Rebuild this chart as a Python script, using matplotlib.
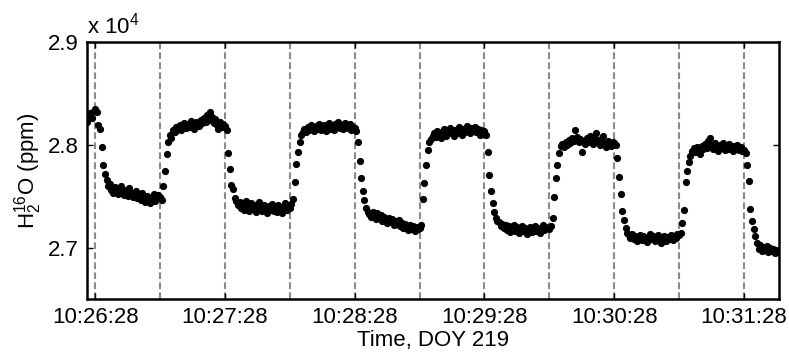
import numpy as np
import matplotlib.pyplot as plt

plt.rcParams['font.family'] = ['Liberation Sans', 'DejaVu Sans']
plt.rcParams['mathtext.fontset'] = 'custom'
plt.rcParams['mathtext.rm'] = 'Liberation Sans'
plt.rcParams['mathtext.it'] = 'Liberation Sans:italic'

# sampling: seconds after 10:26:28, one reading every 0.75 s
dt = 0.75
t_first = -3.75

# H2(16)O readings in units of 1e4 ppm, one list per 30 s valve period
pre = [2.822, 2.829, 2.831, 2.826, 2.833]
seg0 = [2.835, 2.832, 2.819, 2.815, 2.798, 2.780, 2.772, 2.766, 2.760,
        2.762, 2.756, 2.753, 2.759, 2.757, 2.752, 2.755, 2.760, 2.754, 2.751,
        2.756, 2.750, 2.758, 2.753, 2.749, 2.752, 2.755, 2.748, 2.751, 2.746,
        2.753, 2.749, 2.744, 2.750, 2.747, 2.743, 2.749, 2.752, 2.745, 2.748, 2.751]
seg1 = [2.749, 2.746, 2.760, 2.775, 2.791, 2.803, 2.810, 2.807, 2.814,
        2.812, 2.817, 2.815, 2.819, 2.814, 2.818, 2.821, 2.816, 2.820, 2.817,
        2.823, 2.819, 2.815, 2.822, 2.820, 2.818, 2.824, 2.821, 2.826, 2.822,
        2.829, 2.824, 2.832, 2.827, 2.821, 2.825, 2.819, 2.815, 2.822, 2.817, 2.820]
seg2 = [2.818, 2.814, 2.792, 2.776, 2.761, 2.757, 2.748, 2.745, 2.741,
        2.744, 2.739, 2.742, 2.737, 2.745, 2.740, 2.736, 2.743, 2.739, 2.741,
        2.735, 2.740, 2.744, 2.738, 2.736, 2.741, 2.739, 2.734, 2.740, 2.737,
        2.742, 2.736, 2.739, 2.735, 2.741, 2.738, 2.734, 2.739, 2.743, 2.737, 2.740]
seg3 = [2.739, 2.742, 2.747, 2.764, 2.781, 2.793, 2.803, 2.810, 2.812,
        2.815, 2.812, 2.817, 2.814, 2.819, 2.816, 2.813, 2.818, 2.815, 2.820,
        2.814, 2.817, 2.819, 2.813, 2.816, 2.821, 2.815, 2.818, 2.814, 2.820,
        2.817, 2.822, 2.816, 2.819, 2.815, 2.821, 2.818, 2.816, 2.820, 2.814, 2.817]
seg4 = [2.816, 2.813, 2.803, 2.784, 2.768, 2.755, 2.746, 2.739, 2.735,
        2.733, 2.730, 2.735, 2.731, 2.728, 2.734, 2.729, 2.732, 2.726, 2.730,
        2.727, 2.724, 2.729, 2.725, 2.728, 2.722, 2.726, 2.723, 2.727, 2.721,
        2.724, 2.719, 2.723, 2.720, 2.717, 2.722, 2.718, 2.721, 2.716, 2.720, 2.718]
seg5 = [2.719, 2.722, 2.747, 2.763, 2.780, 2.795, 2.803, 2.806, 2.809,
        2.811, 2.808, 2.813, 2.810, 2.807, 2.812, 2.815, 2.809, 2.813, 2.811,
        2.816, 2.812, 2.809, 2.814, 2.811, 2.817, 2.813, 2.810, 2.815, 2.812,
        2.818, 2.814, 2.811, 2.816, 2.813, 2.817, 2.812, 2.815, 2.810, 2.814, 2.812]
seg6 = [2.813, 2.810, 2.793, 2.771, 2.755, 2.743, 2.735, 2.729, 2.726,
        2.725, 2.721, 2.723, 2.719, 2.722, 2.717, 2.721, 2.715, 2.719, 2.722,
        2.716, 2.720, 2.714, 2.718, 2.721, 2.716, 2.719, 2.713, 2.717, 2.720,
        2.715, 2.718, 2.721, 2.716, 2.719, 2.714, 2.718, 2.722, 2.717, 2.720, 2.719]
seg7 = [2.718, 2.721, 2.729, 2.749, 2.768, 2.780, 2.792, 2.799, 2.801,
        2.798, 2.803, 2.800, 2.805, 2.802, 2.807, 2.804, 2.814, 2.808, 2.803,
        2.806, 2.793, 2.804, 2.801, 2.807, 2.803, 2.809, 2.805, 2.801, 2.806,
        2.811, 2.804, 2.800, 2.806, 2.809, 2.802, 2.798, 2.804, 2.801, 2.799, 2.803]
seg8 = [2.802, 2.800, 2.787, 2.769, 2.752, 2.736, 2.727, 2.719, 2.714,
        2.712, 2.709, 2.713, 2.708, 2.711, 2.706, 2.710, 2.712, 2.707, 2.711,
        2.709, 2.705, 2.710, 2.713, 2.708, 2.711, 2.706, 2.709, 2.712, 2.707,
        2.704, 2.709, 2.711, 2.706, 2.710, 2.708, 2.712, 2.707, 2.711, 2.709, 2.713]
seg9 = [2.712, 2.714, 2.724, 2.737, 2.764, 2.775, 2.783, 2.789, 2.794,
        2.797, 2.793, 2.798, 2.795, 2.791, 2.799, 2.796, 2.801, 2.797, 2.804,
        2.807, 2.800, 2.796, 2.802, 2.798, 2.794, 2.800, 2.797, 2.802, 2.795,
        2.799, 2.796, 2.801, 2.797, 2.794, 2.799, 2.796, 2.800, 2.795, 2.798, 2.794]
seg10 = [2.795, 2.792, 2.780, 2.765, 2.738, 2.726, 2.718, 2.711, 2.704,
         2.699, 2.703, 2.697, 2.701, 2.698, 2.702, 2.696, 2.700, 2.697, 2.699,
         2.695, 2.698, 2.696]

# valve switching times (s after 10:26:28)
switch_times = [0, 30, 60, 90, 120, 150, 180, 210, 240, 270, 300]

tick_pos = [0, 60, 120, 180, 240, 300]
tick_labels = ['10:26:28', '10:27:28', '10:28:28', '10:29:28', '10:30:28', '10:31:28']

h2o = np.concatenate([pre, seg0, seg1, seg2, seg3, seg4, seg5,
                      seg6, seg7, seg8, seg9, seg10]) * 1e4
t = t_first + dt * np.arange(len(h2o))

fig = plt.figure(figsize=(7.89, 3.54), dpi=100)
ax = fig.add_axes([87 / 789, 55 / 354, 692 / 789, 257 / 354])

for ts in switch_times:
    ax.axvline(ts, color='#8a8a8a', lw=1.5, linestyle=(0, (3.2, 1.6)), zorder=1)

ax.plot(t, h2o, 'o', color='black', ms=5.2, mew=0, zorder=3)

ax.set_xlim(-3.8, 316.2)
ax.set_ylim(2.65e4, 2.9e4)
ax.set_xticks(tick_pos)
ax.set_xticklabels(tick_labels)
ax.set_yticks([2.7e4, 2.8e4, 2.9e4])
ax.set_yticklabels(['2.7', '2.8', '2.9'])

ax.tick_params(direction='in', length=4, width=1, top=True, right=True,
               labelsize=16, pad=6)
for sp in ax.spines.values():
    sp.set_linewidth(1.8)

ax.text(0, 1.015, r'x 10$^{4}$', transform=ax.transAxes, fontsize=16,
        ha='left', va='bottom')
ax.set_xlabel('Time, DOY 219', fontsize=16, labelpad=1)
ax.set_ylabel(r'H$_2^{16}$O (ppm)', fontsize=16, labelpad=3)

fig.savefig('out.png', dpi=100)
